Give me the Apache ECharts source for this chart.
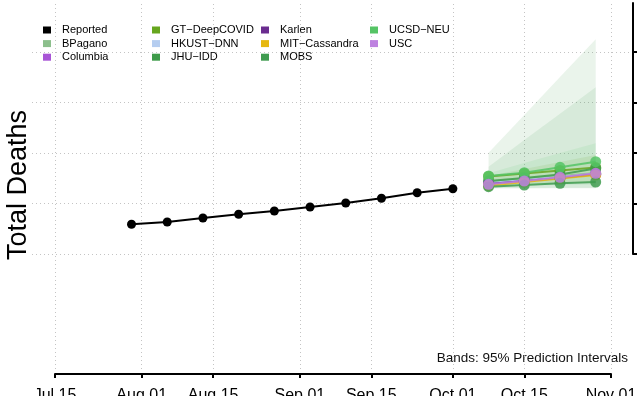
<!DOCTYPE html>
<html><head><meta charset="utf-8">
<script src="https://cdn.jsdelivr.net/npm/echarts@6/dist/echarts.min.js"></script>
<style>html,body{margin:0;padding:0;background:#fff}#c{width:638px;height:396px}</style>
</head><body><div id="c"></div>
<script>
// ---------- data ----------
const xTickDates = ['2020-07-15','2020-08-01','2020-08-15','2020-09-01','2020-09-15','2020-10-01','2020-10-15','2020-11-01'];
const yTickValues = [0, 5000, 10000, 15000, 20000];
const reportedDates = ['2020-07-30','2020-08-06','2020-08-13','2020-08-20','2020-08-27','2020-09-03','2020-09-10','2020-09-17','2020-09-24','2020-10-01'];
const reportedValues = [2941, 3168, 3564, 3931, 4257, 4653, 5050, 5515, 6069, 6465];
const forecastDates = ['2020-10-08','2020-10-15','2020-10-22','2020-10-29'];

const modelNames = ['BPagano','Columbia','GT\u2212DeepCOVID','HKUST\u2212DNN','JHU\u2212IDD','Karlen','MIT\u2212Cassandra','MOBS','UCSD\u2212NEU','USC'];
const bpagano      = [7129, 7426, 7723, 8020];
const columbia     = [6980, 7277, 7574, 7871];
const gtDeepCovid  = [7673, 7970, 8267, 8564];
const hkustDnn     = [7030, 7327, 7624, 7921];
const jhuIdd       = [7228, 7525, 7871, 8465];
const karlen       = [6931, 7228, 7525, 7921];
const mitCassandra = [6762, 7129, 7475, 7822];
const mobs         = [6663, 6832, 7000, 7129];
const ucsdNeu      = [7723, 8050, 8584, 9139];
const usc          = [6901, 7228, 7594, 7990];
const modelValues = [bpagano, columbia, gtDeepCovid, hkustDnn, jhuIdd, karlen, mitCassandra, mobs, ucsdNeu, usc];

// 95% prediction interval bands
const bandModels = ['JHU\u2212IDD','MOBS','UCSD\u2212NEU','GT\u2212DeepCOVID'];
const jhuIddLower  = [6485, 6485, 6505, 6505];
const jhuIddUpper  = [10030, 13772, 17515, 21257];
const mobsLower    = [6535, 6535, 6555, 6555];
const mobsUpper    = [8644, 11287, 13891, 16505];
const ucsdLower    = [6733, 6782, 6832, 6881];
const ucsdUpper    = [7990, 9010, 10000, 10960];
const gtLower      = [6832, 6931, 7030, 7129];
const gtUpper      = [7723, 8416, 9109, 9802];
const bandLowers = [jhuIddLower, mobsLower, ucsdLower, gtLower];
const bandUppers = [jhuIddUpper, mobsUpper, ucsdUpper, gtUpper];

const legendColumns = [
  ['Reported','BPagano','Columbia'],
  ['GT\u2212DeepCOVID','HKUST\u2212DNN','JHU\u2212IDD'],
  ['Karlen','MIT\u2212Cassandra','MOBS'],
  ['UCSD\u2212NEU','USC']
];

// ---------- styles ----------
const modelColors = {
  'BPagano':'#8cbf8c','Columbia':'#a855d6','GT\u2212DeepCOVID':'#66a61e','HKUST\u2212DNN':'#b5cdf0',
  'JHU\u2212IDD':'#3e9b4a','Karlen':'#6a2c8f','MIT\u2212Cassandra':'#e6b810','MOBS':'#3f9b4f',
  'UCSD\u2212NEU':'#55c465','USC':'#be82e0'
};
const FONT = "'Liberation Sans', Arial, Helvetica, sans-serif";
const W = 638, H = 396;
const gA = {left:55, right:27, top:4, bottom:27};
const gB = {left:32, right:5, top:3, bottom:142};

const t = s => Date.parse(s);
const tA0 = t(xTickDates[0]), tA1 = t(xTickDates[xTickDates.length-1]);
const pxPerMs = (W - gA.left - gA.right) / (tA1 - tA0);
const tB0 = tA0 - (gA.left - gB.left) / pxPerMs;
const tB1 = tA1 + (gA.right - gB.right) / pxPerMs;
const yMaxB = 5000 * ((H - gB.bottom) - gB.top) / 50.5;
const MON = ['Jan','Feb','Mar','Apr','May','Jun','Jul','Aug','Sep','Oct','Nov','Dec'];
const fmtDate = v => { const d = new Date(v); return MON[d.getUTCMonth()] + ' ' + String(d.getUTCDate()).padStart(2,'0'); };
const pairs = (dates, vals) => dates.map((d,i)=>[t(d), vals[i]]);

const gridLineStyle = {color:'#c4c4c4', width:1, type:[1,3]};

const series = [];
// bands (polygon through the axis coordinates)
bandModels.forEach((m, i) => {
  const lo = pairs(forecastDates, bandLowers[i]);
  const up = pairs(forecastDates, bandUppers[i]);
  series.push({
    type:'custom', name: m + ' band', xAxisIndex:1, yAxisIndex:1, silent:true,
    data: forecastDates.map((d,k)=>[t(d), bandLowers[i][k], bandUppers[i][k]]),
    encode:{x:0, y:[1,2]},
    renderItem: (params, api) => {
      if (params.dataIndex !== 0) return null;
      const pts = up.map(p => api.coord(p)).concat(lo.slice().reverse().map(p => api.coord(p)));
      return {type:'polygon', shape:{points:pts}, style:{fill: modelColors[m], opacity:0.11}};
    }
  });
});
// model lines
modelNames.forEach((m, i) => {
  series.push({
    type:'line', name:m, xAxisIndex:1, yAxisIndex:1, data: pairs(forecastDates, modelValues[i]),
    color: modelColors[m], symbol:'circle', symbolSize:11,
    lineStyle:{width:2, opacity:0.85}, itemStyle:{opacity:0.85}
  });
});
// reported
series.push({
  type:'line', name:'Reported', xAxisIndex:1, yAxisIndex:1, data: pairs(reportedDates, reportedValues),
  color:'#000', symbol:'circle', symbolSize:9, lineStyle:{width:2}
});

const legendLefts = [43, 152, 261, 370];
const legend = legendColumns.map((col, i) => ({
  orient:'vertical', left: legendLefts[i], top: 24.5, padding:0,
  itemWidth:8, itemHeight:7, itemGap:2.6, icon:'rect', selectedMode:false,
  data: col.map(n => ({name:n, itemStyle:{opacity:1}})),
  textStyle:{fontSize:11, fontFamily:FONT, color:'#000', padding:[0,0,0,6]}
}));

const option = {
  animation:false,
  backgroundColor:'#fff',
  legend,
  grid:[Object.assign({containLabel:false, outerBoundsMode:'none'}, gA), Object.assign({containLabel:false, outerBoundsMode:'none'}, gB)],
  xAxis:[
    {type:'value', gridIndex:0, min:tA0, max:tA1, offset:5,
     axisLine:{onZero:false, lineStyle:{color:'#000', width:2}},
     axisTick:{customValues: xTickDates.map(t), length:4, inside:false, lineStyle:{color:'#000', width:2}},
     axisLabel:{customValues: xTickDates.map(t), formatter: fmtDate, margin:14, fontSize:16, fontFamily:FONT, color:'#000'},
     splitLine:{show:true, lineStyle:gridLineStyle}},
    {type:'value', gridIndex:1, min:tB0, max:tB1, show:false, splitLine:{show:false}}
  ],
  yAxis:[
    {type:'value', gridIndex:0, min:0, max:1, show:false, splitLine:{show:false}},
    {type:'value', gridIndex:1, position:'right', min:0, max:yMaxB,
     axisLine:{show:true, onZero:false, lineStyle:{color:'#000', width:2}},
     axisTick:{show:true, customValues: yTickValues, length:4, inside:false, lineStyle:{color:'#000', width:2}},
     axisLabel:{show:false, customValues: yTickValues},
     splitLine:{show:true, lineStyle:gridLineStyle}}
  ],
  graphic:[
    {type:'text', x:18.5, y:185, rotation:Math.PI/2,
     style:{text:'Total Deaths', font:'27px ' + FONT, fill:'#000', align:'center', verticalAlign:'middle', textAlign:'center', textVerticalAlign:'middle'}},
    {type:'text', x:628, y:358,
     style:{text:'Bands: 95% Prediction Intervals', font:'13.5px ' + FONT, fill:'#111', align:'right', verticalAlign:'middle', textAlign:'right', textVerticalAlign:'middle'}}
  ],
  series
};
const chart = echarts.init(document.getElementById('c'), null, {renderer:'canvas', width:W, height:H});
chart.setOption(option);
</script></body></html>
